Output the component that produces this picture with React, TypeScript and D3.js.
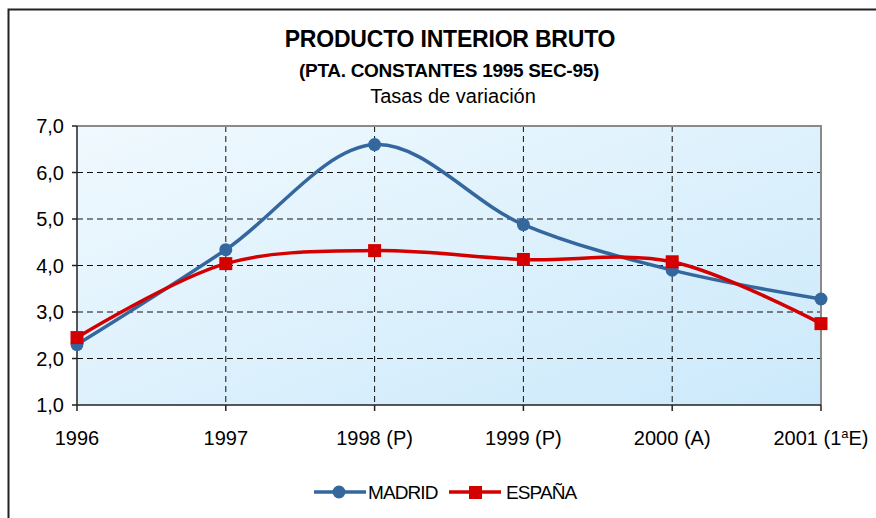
import React from 'react'
import * as d3 from 'd3'

const years = ['1996', '1997', '1998 (P)', '1999 (P)', '2000 (A)', '2001 (1ªE)']
const madrid = [2.3, 4.34, 6.6, 4.88, 3.9, 3.28]
const espana = [2.45, 4.04, 4.32, 4.13, 4.08, 2.75]
const yTicks = [1, 2, 3, 4, 5, 6, 7]

const W = 876
const H = 518
const plot = { left: 77, right: 821, top: 126, bottom: 405 }
const BLUE = '#35679f'
const RED = '#d40000'

const App: React.FC = () => {
  const x = d3.scalePoint<string>().domain(years).range([plot.left, plot.right]).padding(0)
  const y = d3.scaleLinear().domain([1, 7]).range([plot.bottom, plot.top])

  const line = d3.line<number>()
    .x((_, i) => x(years[i]) as number)
    .y(d => y(d))
    .curve(d3.curveCatmullRom.alpha(0.5))

  const fmt = (v: number) => v.toFixed(1).replace('.', ',')

  return (
    <div style={{ position: 'absolute', left: 0, top: 0 }}>
      <svg width={W} height={H} style={{ display: 'block', fontFamily: '"Liberation Sans", Arial, sans-serif' }}>
        <defs>
          <linearGradient id="bg" x1="0" y1="0" x2="1" y2="1">
            <stop offset="0%" stopColor="#f0f9fe" />
            <stop offset="100%" stopColor="#cbe9fb" />
          </linearGradient>
        </defs>
        <rect x={0} y={0} width={W} height={H} fill="#fff" />
        {/* outer frame */}
        <path d={`M8.5,${H} V9.5 H${W}`} fill="none" stroke="#222" strokeWidth={2} />

        {/* titles */}
        <text x={450} y={47} textAnchor="middle" fontSize={23} fontWeight="bold" letterSpacing={-0.2}>PRODUCTO INTERIOR BRUTO</text>
        <text x={449} y={77} textAnchor="middle" fontSize={19} fontWeight="bold" letterSpacing={-0.3}>(PTA. CONSTANTES 1995 SEC-95)</text>
        <text x={453} y={103} textAnchor="middle" fontSize={20}>Tasas de variación</text>

        {/* plot background */}
        <rect x={plot.left} y={plot.top} width={plot.right - plot.left} height={plot.bottom - plot.top} fill="url(#bg)" />

        {/* grid */}
        {yTicks.slice(1, -1).map(t => (
          <line key={'h' + t} x1={plot.left} x2={plot.right} y1={y(t)} y2={y(t)} stroke="#111" strokeDasharray="6,4" strokeWidth={1} />
        ))}
        {years.slice(1, -1).map(c => (
          <line key={'v' + c} x1={x(c)} x2={x(c)} y1={plot.top} y2={plot.bottom} stroke="#111" strokeDasharray="6,4" strokeWidth={1} />
        ))}

        {/* plot border */}
        <path d={`M${plot.left},${plot.top} H${plot.right} V${plot.bottom}`} fill="none" stroke="#8a8a8a" strokeWidth={2} />
        <path d={`M${plot.left},${plot.top} V${plot.bottom} H${plot.right}`} fill="none" stroke="#222" strokeWidth={1.5} />

        {/* y axis */}
        {yTicks.map(t => (
          <g key={'yt' + t}>
            <line x1={plot.left - 5} x2={plot.left} y1={y(t)} y2={y(t)} stroke="#222" strokeWidth={1.5} />
            <text x={64} y={y(t) + 7} textAnchor="end" fontSize={20}>{fmt(t)}</text>
          </g>
        ))}

        {/* x axis */}
        {years.map(c => (
          <g key={'xt' + c}>
            <line x1={x(c)} x2={x(c)} y1={plot.bottom} y2={plot.bottom + 6} stroke="#222" strokeWidth={1.5} />
            <text x={x(c)} y={445} textAnchor="middle" fontSize={20}>
              {c === '2001 (1ªE)' ? (
                <>2001 (1<tspan fontSize={13} dy={-7}>a</tspan><tspan dy={7}>E)</tspan></>
              ) : c}
            </text>
          </g>
        ))}

        {/* series */}
        <path d={line(madrid) || ''} fill="none" stroke={BLUE} strokeWidth={3.5} />
        <path d={line(espana) || ''} fill="none" stroke={RED} strokeWidth={3.5} />
        {madrid.map((v, i) => (
          <circle key={'m' + i} cx={x(years[i])} cy={y(v)} r={6.5} fill={BLUE} />
        ))}
        {espana.map((v, i) => (
          <rect key={'e' + i} x={(x(years[i]) as number) - 6.5} y={y(v) - 6.5} width={13} height={13} fill={RED} />
        ))}

        {/* legend */}
        <line x1={314} x2={366} y1={492} y2={492} stroke={BLUE} strokeWidth={3.5} />
        <circle cx={339} cy={492} r={6.5} fill={BLUE} />
        <text x={368} y={499} fontSize={19} letterSpacing={-0.9}>MADRID</text>
        <line x1={449} x2={501} y1={492} y2={492} stroke={RED} strokeWidth={3.5} />
        <rect x={469} y={486} width={13} height={13} fill={RED} />
        <text x={506} y={499} fontSize={19} letterSpacing={-0.9}>ESPAÑA</text>
      </svg>
    </div>
  )
}

export default App
